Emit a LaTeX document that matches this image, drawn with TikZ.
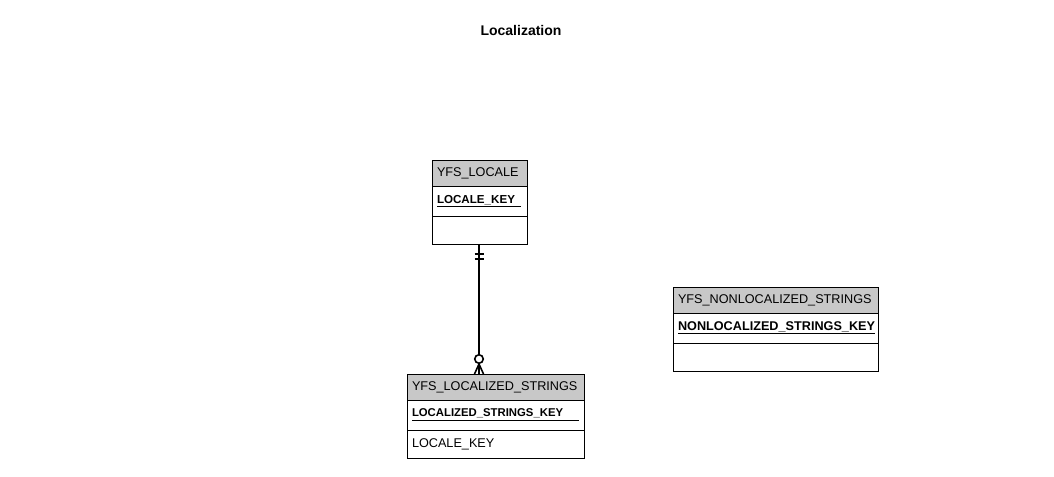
\documentclass[tikz,border=0pt]{standalone}
\usepackage{fontspec}
\setmainfont{Liberation Sans}
\usetikzlibrary{positioning}
\definecolor{headgray}{HTML}{C8C8C8}
\newcommand{\keyline}[2]{\underline{\textbf{#1}\hspace*{#2}}}
\tikzset{
  every picture/.style={line join=miter, line cap=butt},
  tbl/.style={draw=black, line width=0.6pt, inner xsep=3.75pt, inner ysep=0pt, outer sep=0pt,
    align=left, font=\fontsize{9.5}{11}\selectfont},
  tblhead/.style={tbl, fill=headgray, minimum height=19.5pt, anchor=north west},
  tblkey/.style={tbl, fill=white, minimum height=22.5pt},
  tblattr/.style={tbl, fill=white, minimum height=21.5pt},
  rel/.style={line width=1.5pt},
}
\begin{document}
\begin{tikzpicture}[x=0.75pt,y=-0.75pt]
\useasboundingbox (0,0) rectangle (1054,477);
\node[font=\bfseries\fontsize{10.5}{12}\selectfont] (title) at (521,31) {Localization};
% YFS_LOCALE
\node[tblhead, text width=63.75pt] (lhead) at (432,160) {YFS\_LOCALE};
\node[tblkey, text width=63.75pt, below=0pt of lhead, font=\fontsize{8.7}{11}\selectfont] (lkey) {\keyline{LOCALE\_KEY}{4.5pt}};
\node[tblattr, text width=63.75pt, minimum height=21pt, below=0pt of lkey] (lattr) {};
% YFS_LOCALIZED_STRINGS
\node[tblhead, text width=125.25pt] (lzhead) at (407,374) {YFS\_LOCALIZED\_STRINGS};
\node[tblkey, text width=125.25pt, below=0pt of lzhead, font=\fontsize{8.5}{11}\selectfont] (lzkey) {\keyline{LOCALIZED\_STRINGS\_KEY}{12pt}};
\node[tblattr, text width=125.25pt, below=0pt of lzkey] (lzattr) {LOCALE\_KEY};
% YFS_NONLOCALIZED_STRINGS
\node[tblhead, text width=146.25pt] (nhead) at (673,287) {YFS\_NONLOCALIZED\_STRINGS};
\node[tblkey, text width=146.25pt, below=0pt of nhead] (nkey) {\keyline{NONLOCALIZED\_STRINGS\_KEY}{0pt}};
\node[tblattr, text width=146.25pt, below=0pt of nkey] (nattr) {};
% one to zero-or-many
\coordinate (top) at ([xshift=-0.375pt]lattr.south);
\coordinate (bot) at (top |- lzhead.north);
\draw[rel] (top) -- (bot);
\draw[rel] ([shift={(-4.5,10)}]top) -- ++(9,0);
\draw[rel] ([shift={(-4.5,15)}]top) -- ++(9,0);
\draw[line width=1.2pt, fill=white] ([yshift=11.25pt]bot) circle[radius=3.2pt];
\draw[line width=1.2pt] ([yshift=7.5pt]bot) -- ++(-4.5,10)
  ([yshift=7.5pt]bot) -- ++(4.5,10);
\end{tikzpicture}
\end{document}
